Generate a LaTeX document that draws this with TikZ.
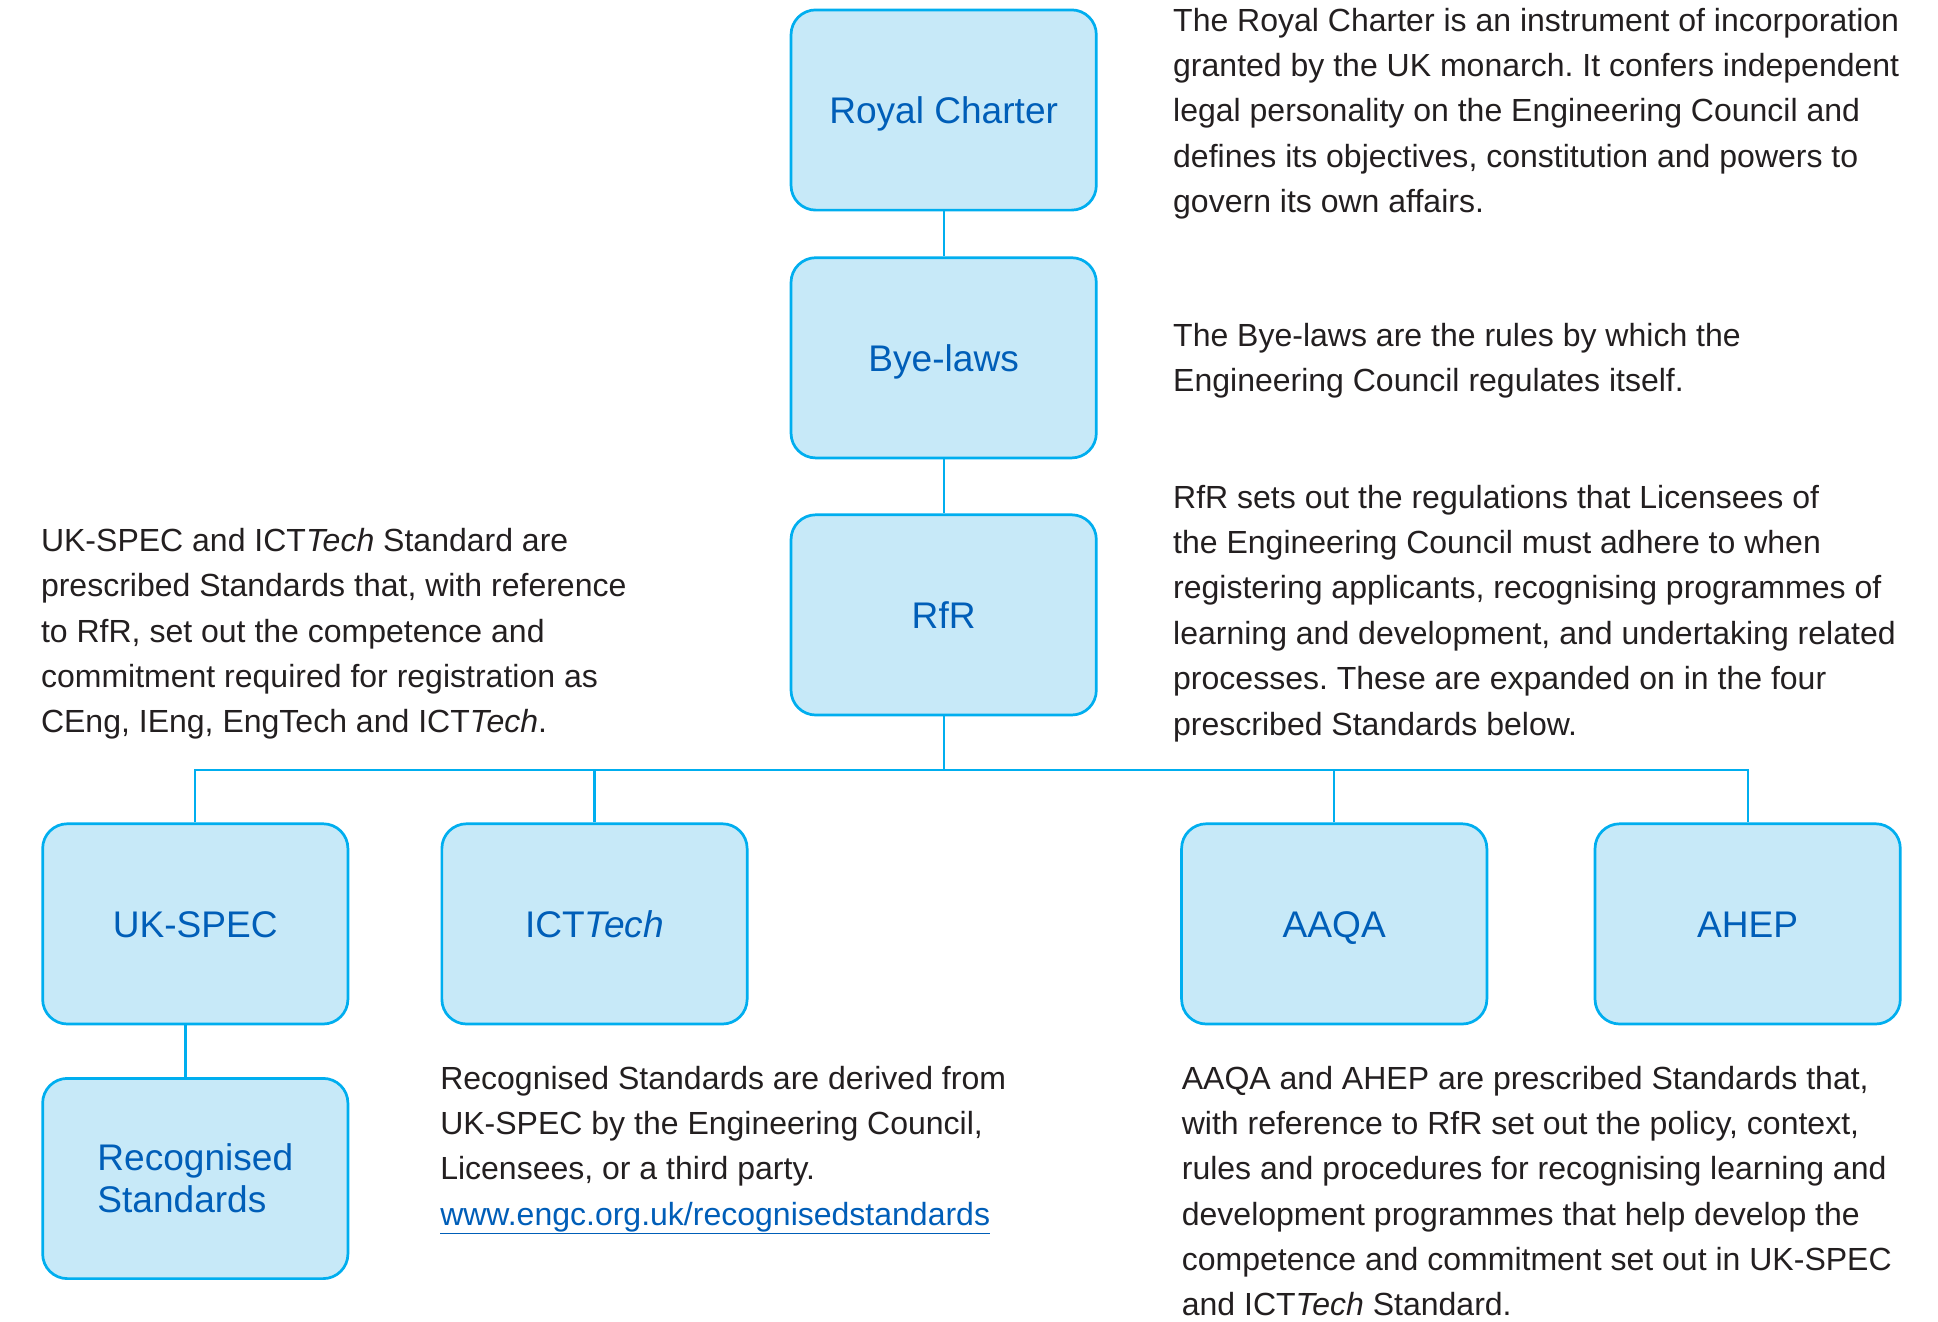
\documentclass[tikz,border=0pt]{standalone}
\usepackage{fontspec}
\setmainfont{Liberation Sans}
\frenchspacing
\definecolor{boxfill}{RGB}{199,233,248}
\definecolor{boxline}{RGB}{0,174,239}
\definecolor{boxtext}{RGB}{0,94,184}
\definecolor{bodytext}{RGB}{35,31,32}
\tikzset{
  stdbox/.style={rectangle, rounded corners=20pt, draw=boxline, fill=boxfill,
    line width=2.2pt, minimum width=247pt, minimum height=162pt, inner sep=0pt,
    font=\fontsize{30}{34}\selectfont, text=boxtext, align=center},
  onelabel/.style={text height=22pt, text depth=0pt},
  conn/.style={draw=boxline, line width=1.8pt},
  para/.style={anchor=north west, inner sep=0pt, align=left,
    font=\fontsize{25.9}{36.7}\selectfont, text=bodytext}
}
\begin{document}
\begin{tikzpicture}[x=1pt,y=-1pt]
\useasboundingbox[fill=white] (0,0) rectangle (1568,1069);
% boxes
\node[stdbox, onelabel] (rc) at (763.5,89) {Royal Charter};
\node[stdbox, onelabel] (bl) at (763.5,289.5) {Bye-laws};
\node[stdbox, onelabel] (rfr) at (763.5,497.5) {RfR};
\node[stdbox, onelabel] (uks) at (158,747.5) {UK-SPEC};
\node[stdbox, onelabel] (ict) at (481,747.5) {ICT\textit{Tech}};
\node[stdbox, onelabel] (aaqa) at (1079.5,747.5) {AAQA};
\node[stdbox, onelabel] (ahep) at (1414,747.5) {AHEP};
\node[stdbox, align=left] (rs) at (158,953.5) {Recognised\\Standards};
% connectors
\coordinate (hub) at (763.5,623);
\draw[conn] (rc.south) -- (bl.north);
\draw[conn] (bl.south) -- (rfr.north);
\draw[conn] (rfr.south) -- (hub);
\draw[conn] (uks.north) -- (uks.north |- hub) -- (ahep.north |- hub) -- (ahep.north);
\draw[conn] (ict.north) -- (ict.north |- hub);
\draw[conn] (aaqa.north) -- (aaqa.north |- hub);
\draw[conn] ([xshift=-8pt]uks.south) -- ([xshift=-8pt]uks.south |- rs.north);
% texts
\node[para] (trc) at (949,-0.7) {\strut The Royal Charter is an instrument of incorporation\\
granted by the UK monarch. It confers independent\\
legal personality on the Engineering Council and\\
defines its objectives, constitution and powers to\\
govern its own affairs.};
\node[para] (tbl) at (949,254.3) {\strut The Bye-laws are the rules by which the\\
Engineering Council regulates itself.};
\node[para] (trfr) at (949,385.3) {\strut RfR sets out the regulations that Licensees of\\
the Engineering Council must adhere to when\\
registering applicants, recognising programmes of\\
learning and development, and undertaking related\\
processes. These are expanded on in the four\\
prescribed Standards below.};
\node[para] (tuks) at (33,420.3) {\strut UK-SPEC and ICT\textit{Tech} Standard are\\
prescribed Standards that, with reference\\
to RfR, set out the competence and\\
commitment required for registration as\\
CEng, IEng, EngTech and ICT\textit{Tech}.};
\node[para] (trs) at (356,855.3) {\strut Recognised Standards are derived from\\
UK-SPEC by the Engineering Council,\\
Licensees, or a third party.\\
\textcolor{boxtext}{\underline{www.engc.org.uk/recognisedstandards}}};
\node[para] (taaqa) at (956,855.3) {\strut AAQA and AHEP are prescribed Standards that,\\
with reference to RfR set out the policy, context,\\
rules and procedures for recognising learning and\\
development programmes that help develop the\\
competence and commitment set out in UK-SPEC\\
and ICT\textit{Tech} Standard.};
\end{tikzpicture}
\end{document}
